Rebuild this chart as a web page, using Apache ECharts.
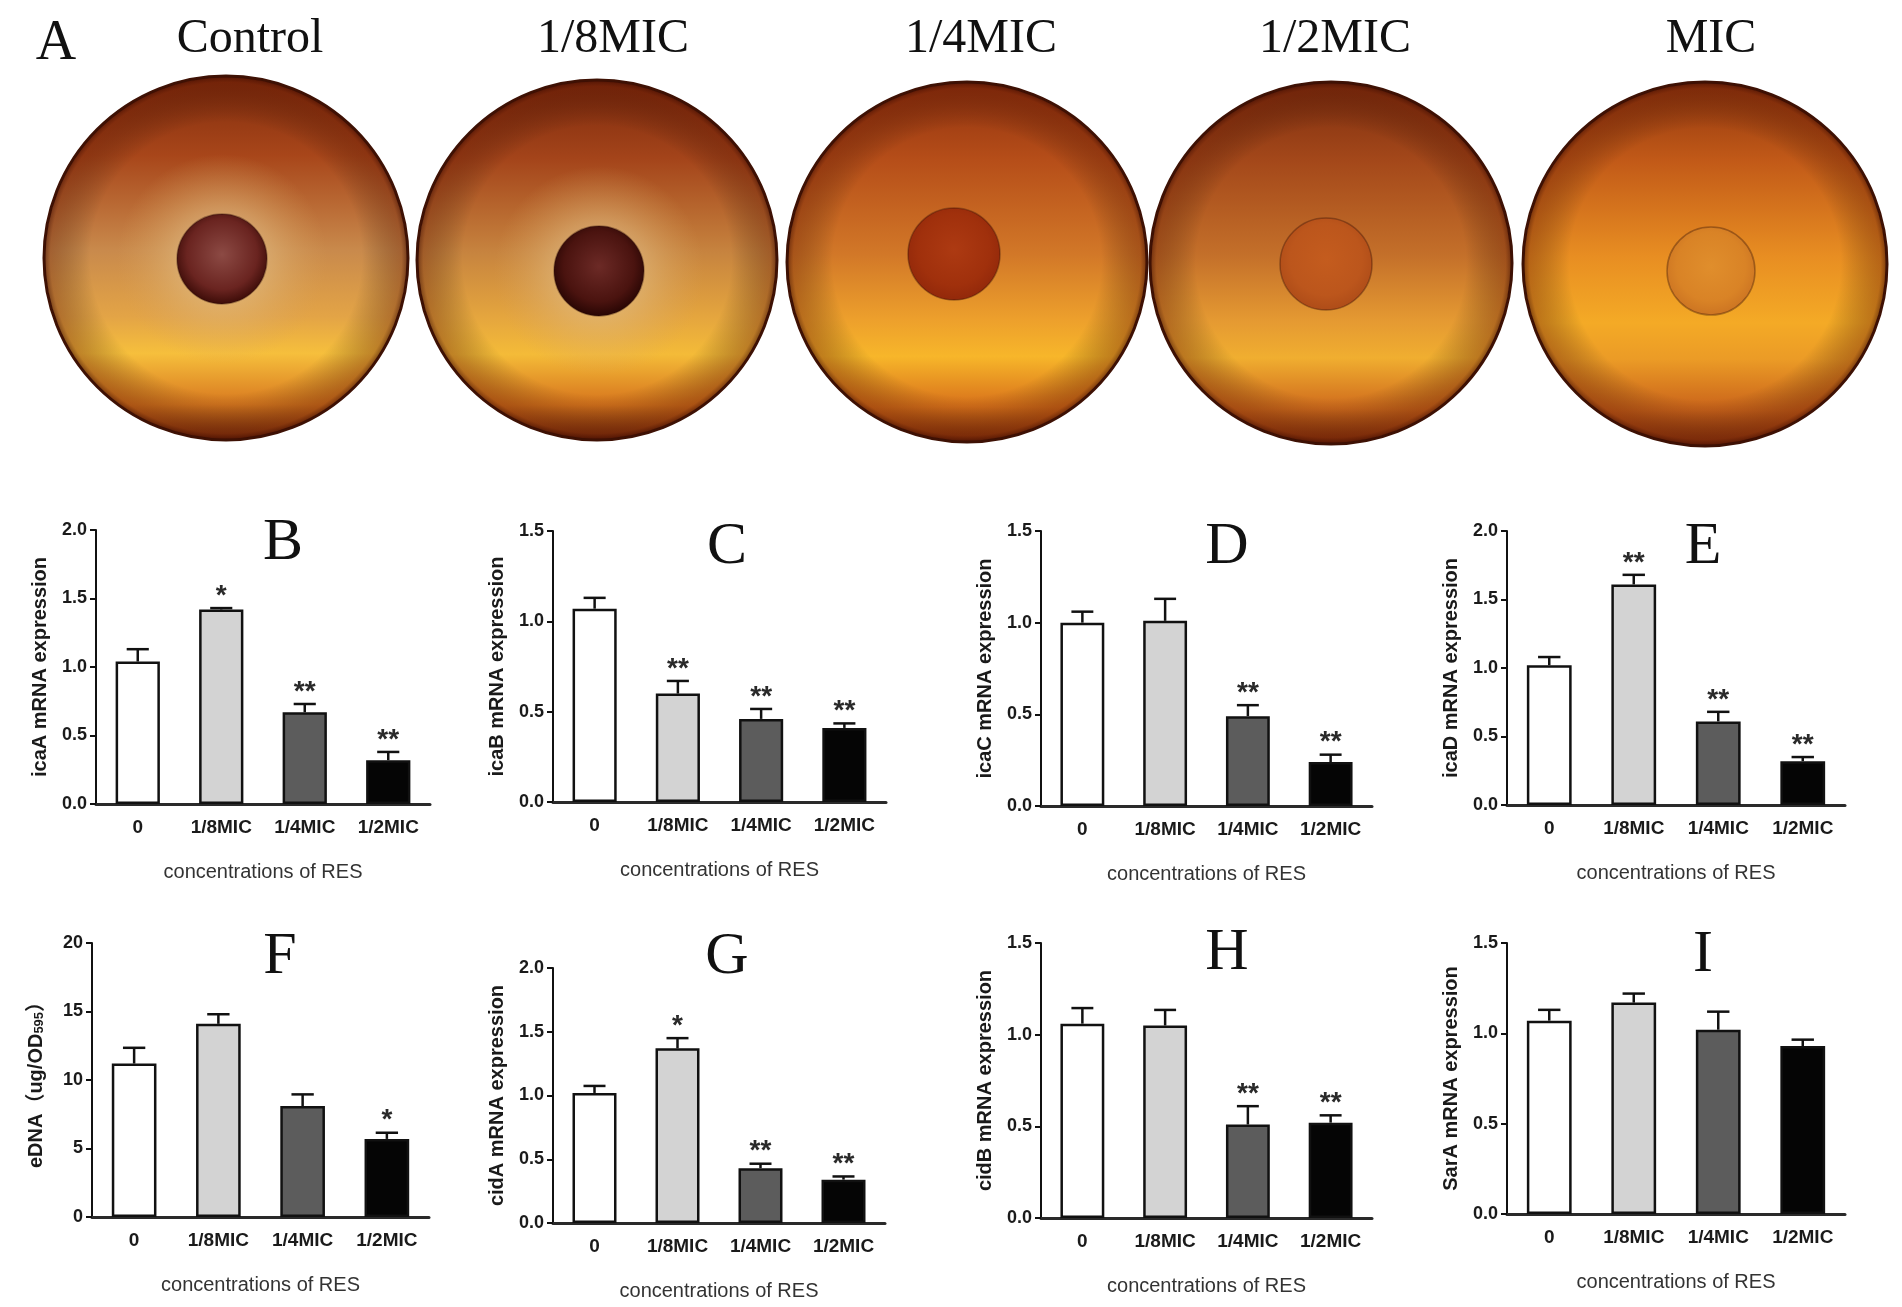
<!DOCTYPE html>
<html>
<head>
<meta charset="utf-8">
<script src="https://cdn.jsdelivr.net/npm/echarts@6/dist/echarts.min.js"></script>
<style>
  html, body { margin: 0; padding: 0; background: #fff; }
  #main { width: 1902px; height: 1307px; }
</style>
</head>
<body>
<div id="main"></div>
<script>
// categories on every bar panel
const categories = ['0', '1/8MIC', '1/4MIC', '1/2MIC'];
const plateTitles = ['Control', '1/8MIC', '1/4MIC', '1/2MIC', 'MIC'];

// B - I : mean, error (SD, drawn upward only), significance marks
const icaA = [1.04, 1.42, 0.67, 0.32];
const icaAErr = [0.09, 0.01, 0.06, 0.06];
const icaASig = ['', '*', '**', '**'];

const icaB = [1.07, 0.60, 0.46, 0.41];
const icaBErr = [0.06, 0.07, 0.055, 0.025];
const icaBSig = ['', '**', '**', '**'];

const icaC = [1.00, 1.01, 0.49, 0.24];
const icaCErr = [0.06, 0.12, 0.06, 0.04];
const icaCSig = ['', '', '**', '**'];

const icaD = [1.02, 1.61, 0.61, 0.32];
const icaDErr = [0.06, 0.07, 0.07, 0.03];
const icaDSig = ['', '**', '**', '**'];

const eDNA = [11.2, 14.1, 8.1, 5.7];
const eDNAErr = [1.15, 0.7, 0.85, 0.45];
const eDNASig = ['', '', '', '*'];

const cidA = [1.02, 1.37, 0.43, 0.34];
const cidAErr = [0.055, 0.08, 0.035, 0.025];
const cidASig = ['', '*', '**', '**'];

const cidB = [1.06, 1.05, 0.51, 0.52];
const cidBErr = [0.085, 0.085, 0.10, 0.04];
const cidBSig = ['', '', '**', '**'];

const sarA = [1.07, 1.17, 1.02, 0.93];
const sarAErr = [0.06, 0.05, 0.10, 0.035];
const sarASig = ['', '', '', ''];

// y axis ranges per panel
const yMax = [2, 1.5, 1.5, 2, 20, 2, 1.5, 1.5];
const yStep = [0.5, 0.5, 0.5, 0.5, 5, 0.5, 0.5, 0.5];

const barColors = ['#ffffff', '#d3d3d3', '#5c5c5c', '#050505'];
const sans = 'Arial, "Liberation Sans", "Noto Sans CJK SC", sans-serif';
const serif = '"Times New Roman", "Liberation Serif", serif';

const panels = [
  {letter: 'B', name: 'icaA mRNA expression', v: icaA, e: icaAErr, s: icaASig, grid: [96, 530, 334, 274], lp: [283, 543]},
  {letter: 'C', name: 'icaB mRNA expression', v: icaB, e: icaBErr, s: icaBSig, grid: [553, 531, 333, 271], lp: [727, 547]},
  {letter: 'D', name: 'icaC mRNA expression', v: icaC, e: icaCErr, s: icaCSig, grid: [1041, 531, 331, 275], lp: [1227, 547]},
  {letter: 'E', name: 'icaD mRNA expression', v: icaD, e: icaDErr, s: icaDSig, grid: [1507, 531, 338, 274], lp: [1703, 547]},
  {letter: 'F', name: 'eDNA（ug/OD{s|595}）', v: eDNA, e: eDNAErr, s: eDNASig, grid: [92, 943, 337, 274], lp: [280, 957]},
  {letter: 'G', name: 'cidA mRNA expression', v: cidA, e: cidAErr, s: cidASig, grid: [553, 968, 332, 255], lp: [727, 957]},
  {letter: 'H', name: 'cidB mRNA expression', v: cidB, e: cidBErr, s: cidBSig, grid: [1041, 943, 331, 275], lp: [1227, 953]},
  {letter: 'I', name: 'SarA mRNA expression', v: sarA, e: sarAErr, s: sarASig, grid: [1507, 943, 338, 271], lp: [1703, 955]}
];

// plate photos (panel A) drawn as graphics
const plates = [
  {cx: 226, cy: 258, r: 182, tx: 250, body: ['#7e2a0c', '#a8461a', '#c98a4c', '#e3a446', '#f6bf3c', '#d8781f', '#6e240a'],
   halo: true, spot: {cx: 222, cy: 259, r: 45, c: ['#8c4a44', '#6a2420', '#3a0b07']}},
  {cx: 597, cy: 260, r: 180, tx: 613, body: ['#7a280c', '#a4441a', '#c7843f', '#e5a63e', '#f4bb38', '#d6731c', '#6a220a'],
   halo: true, spot: {cx: 599, cy: 271, r: 45, c: ['#6c2a26', '#4a130f', '#260503']}},
  {cx: 967, cy: 262, r: 180, tx: 981, body: ['#8e300e', '#b64e19', '#d27828', '#eda02c', '#f7b62a', '#d8701a', '#7a2a0a'],
   halo: false, spot: {cx: 954, cy: 254, r: 46, c: ['#ad3a12', '#a0300c', '#92280a']}},
  {cx: 1331, cy: 263, r: 181, tx: 1335, body: ['#7c2c0e', '#a4481a', '#c4702a', '#e59a32', '#f0ae30', '#cf6a1c', '#78280a'],
   halo: false, spot: {cx: 1326, cy: 264, r: 46, c: ['#c45c1e', '#bc561c', '#ae4c18']}},
  {cx: 1705, cy: 264, r: 182, tx: 1711, body: ['#8e340e', '#c25a18', '#e88e22', '#f4aa26', '#eb9b26', '#c9621a', '#7e2c0c'],
   halo: false, spot: {cx: 1711, cy: 271, r: 44, c: ['#e08e2c', '#d98326', '#cc7422']}}
];

const chart = echarts.init(document.getElementById('main'), null, {renderer: 'canvas'});

const graphic = [];
graphic.push({type: 'text', silent: true, style: {text: 'A', x: 56, y: 44, font: '56px ' + serif, fill: '#111', align: 'center', verticalAlign: 'middle'}});
plates.forEach(function (p, i) {
  graphic.push({
    type: 'text', silent: true,
    style: {text: plateTitles[i], x: p.tx, y: 39, font: '48px ' + serif, fill: '#111', align: 'center', verticalAlign: 'middle'}
  });
  const b = p.body;
  graphic.push({
    type: 'circle', silent: true, z: 1,
    shape: {cx: p.cx, cy: p.cy, r: p.r},
    style: {
      fill: new echarts.graphic.LinearGradient(0, 0, 0, 1, [
        {offset: 0, color: b[0]}, {offset: 0.22, color: b[1]}, {offset: 0.48, color: b[2]},
        {offset: 0.66, color: b[3]}, {offset: 0.76, color: b[4]}, {offset: 0.9, color: b[5]}, {offset: 1, color: b[6]}
      ]),
      stroke: '#3e1104', lineWidth: 3
    }
  });
  // darker rim
  graphic.push({
    type: 'circle', silent: true, z: 2,
    shape: {cx: p.cx, cy: p.cy, r: p.r - 1},
    style: {
      fill: new echarts.graphic.RadialGradient(0.5, 0.5, 0.5, [
        {offset: 0, color: 'rgba(0,0,0,0)'}, {offset: 0.75, color: 'rgba(0,0,0,0)'},
        {offset: 0.97, color: 'rgba(90,20,0,0.35)'}, {offset: 1, color: 'rgba(60,10,0,0.6)'}
      ])
    }
  });
  if (p.halo) {
    graphic.push({
      type: 'circle', silent: true, z: 3,
      shape: {cx: p.spot.cx, cy: p.spot.cy, r: 105},
      style: {
        fill: new echarts.graphic.RadialGradient(0.5, 0.5, 0.5, [
          {offset: 0, color: 'rgba(230,205,165,0.9)'}, {offset: 0.5, color: 'rgba(222,180,120,0.55)'},
          {offset: 1, color: 'rgba(215,160,90,0)'}
        ])
      }
    });
  }
  const s = p.spot;
  graphic.push({
    type: 'circle', silent: true, z: 4,
    shape: {cx: s.cx, cy: s.cy, r: s.r},
    style: {
      fill: new echarts.graphic.RadialGradient(0.5, 0.45, 0.55, [
        {offset: 0, color: s.c[0]}, {offset: 0.7, color: s.c[1]}, {offset: 1, color: s.c[2]}
      ]),
      stroke: 'rgba(40,8,2,0.35)', lineWidth: 1.5
    }
  });
});

const grids = [], xAxes = [], yAxes = [], series = [];
panels.forEach(function (p, k) {
  graphic.push({type: 'text', silent: true, style: {text: p.letter, x: p.lp[0], y: p.lp[1], font: '60px ' + serif, fill: '#111', align: 'center', verticalAlign: 'middle'}});
  grids.push({left: p.grid[0], top: p.grid[1], width: p.grid[2], height: p.grid[3], containLabel: false});
  xAxes.push({
    type: 'category', gridIndex: k, data: categories,
    axisLine: {lineStyle: {color: '#2a2a2a', width: 3}},
    axisTick: {alignWithLabel: true, length: 8, lineStyle: {color: '#2a2a2a', width: 2}},
    axisLabel: {color: '#1a1a1a', fontFamily: sans, fontWeight: 'bold', fontSize: 19, margin: 14},
    name: 'concentrations of RES', nameLocation: 'middle', nameGap: 58,
    nameTextStyle: {color: '#333', fontFamily: sans, fontSize: 20}
  });
  yAxes.push({
    type: 'value', gridIndex: k, min: 0, max: yMax[k], interval: yStep[k],
    splitLine: {show: false},
    axisLine: {show: true, lineStyle: {color: '#111', width: 2}},
    axisTick: {show: true, length: 6, lineStyle: {color: '#111', width: 2}},
    axisLabel: {
      color: '#1a1a1a', fontFamily: sans, fontWeight: 'bold', fontSize: 18, margin: 9,
      formatter: function (v) { return yStep[k] < 1 ? v.toFixed(1) : String(v); }
    },
    name: p.name, nameLocation: 'middle', nameRotate: 90, nameGap: 46,
    nameTextStyle: {
      color: '#1a1a1a', fontFamily: sans, fontWeight: 'bold', fontSize: 20,
      rich: {s: {fontSize: 13, fontWeight: 'bold', fontFamily: sans, color: '#1a1a1a', verticalAlign: 'bottom', padding: [7, 0, 0, 0]}}
    }
  });
  series.push({
    type: 'bar', xAxisIndex: k, yAxisIndex: k, barWidth: '53%', silent: true,
    data: p.v.map(function (v, i) {
      return {value: v, itemStyle: {color: barColors[i], borderColor: '#111', borderWidth: 2.5}};
    }),
    z: 2
  });
  series.push({
    type: 'custom', xAxisIndex: k, yAxisIndex: k, silent: true, z: 3,
    data: p.v.map(function (v, i) { return [i, v, p.e[i]]; }),
    renderItem: function (params, api) {
      const i = api.value(0);
      const base = api.coord([i, api.value(1)]);
      const top = api.coord([i, api.value(1) + api.value(2)]);
      const half = api.size([1, 0])[0] * 0.53 / 4;
      const children = [
        {type: 'line', shape: {x1: base[0], y1: base[1], x2: top[0], y2: top[1]}, style: {stroke: '#111', lineWidth: 2.5}},
        {type: 'line', shape: {x1: top[0] - half, y1: top[1], x2: top[0] + half, y2: top[1]}, style: {stroke: '#111', lineWidth: 2.5}}
      ];
      const mark = p.s[params.dataIndex];
      if (mark) {
        children.push({
          type: 'text',
          style: {text: mark, x: top[0], y: top[1] - 12, font: 'bold 28px ' + sans, fill: '#2a2a2a', align: 'center', verticalAlign: 'middle'}
        });
      }
      return {type: 'group', children: children};
    }
  });
});

chart.setOption({
  animation: false,
  backgroundColor: '#ffffff',
  grid: grids,
  xAxis: xAxes,
  yAxis: yAxes,
  series: series,
  graphic: graphic
});
</script>
</body>
</html>
